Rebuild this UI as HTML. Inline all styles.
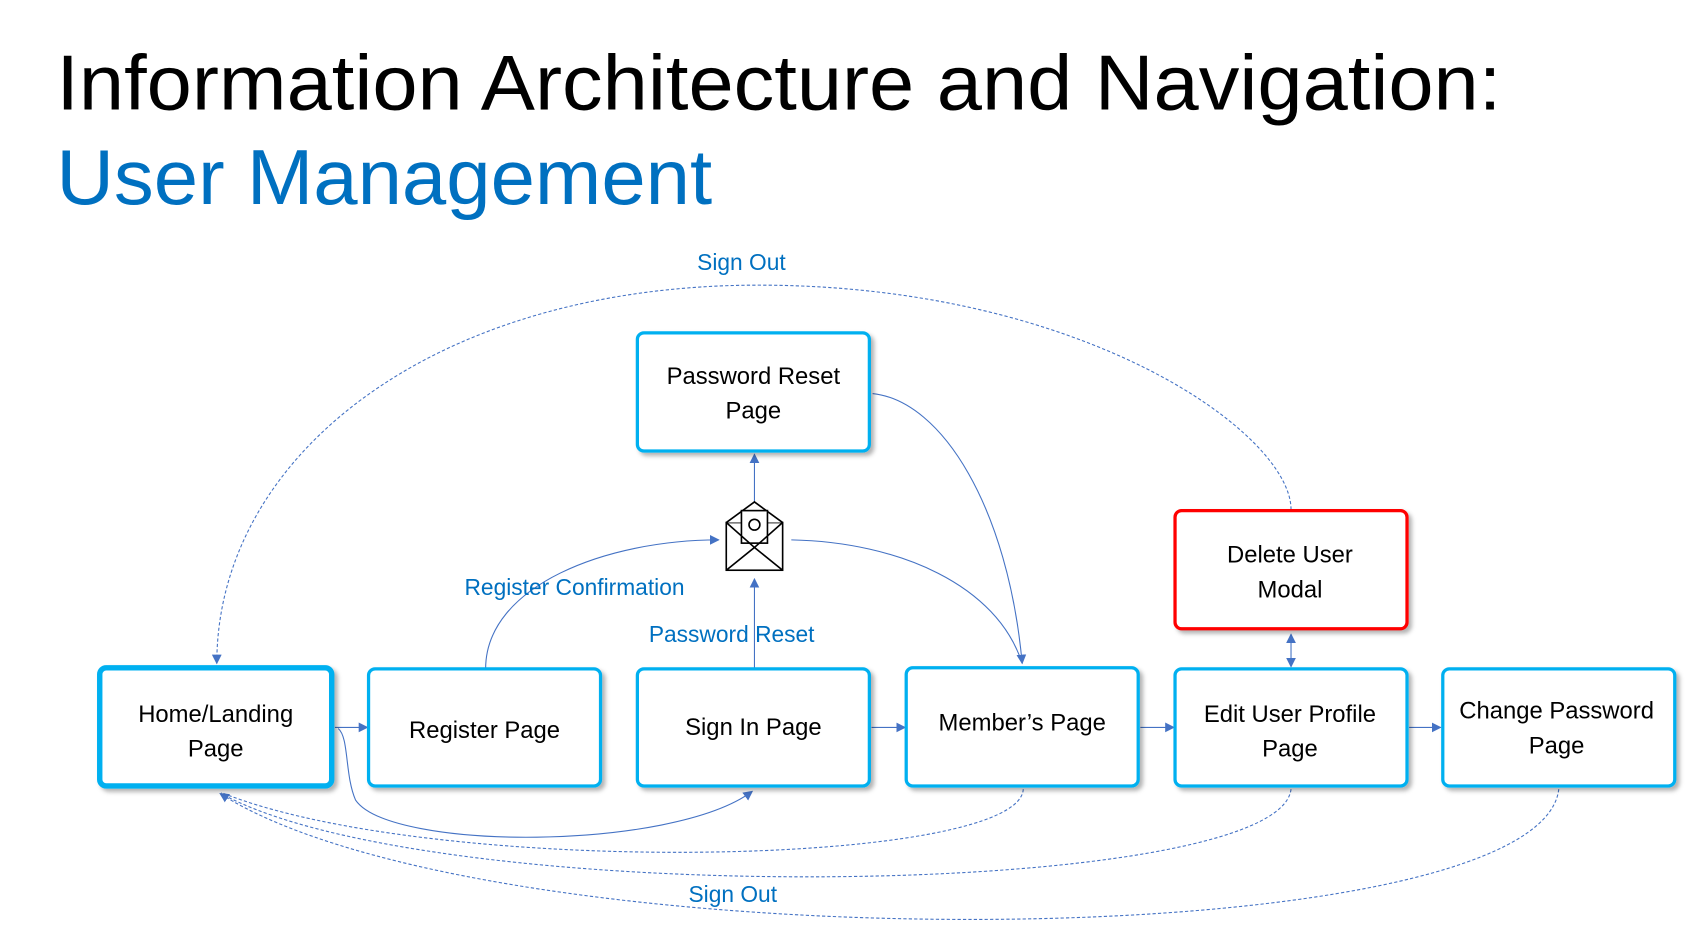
<!DOCTYPE html>
<html><head><meta charset="utf-8"><style>
html,body{margin:0;padding:0;background:#fff;}
svg{display:block;}
text{font-family:"Liberation Sans",sans-serif;}
</style></head><body>
<svg width="1696" height="928" viewBox="0 0 1564.6 856" xmlns="http://www.w3.org/2000/svg">
<defs>
<marker id="a" viewBox="0 0 10 10" refX="9" refY="5" markerWidth="9" markerHeight="9" markerUnits="userSpaceOnUse" orient="auto-start-reverse"><path d="M0,0L10,5L0,10z" fill="#4472C4"/></marker>
<filter id="s" x="-10%" y="-10%" width="130%" height="130%"><feDropShadow dx="3" dy="3" stdDeviation="2" flood-color="#000" flood-opacity="0.3"/></filter>
</defs>
<text x="52" y="101" font-size="72" fill="#000" textLength="1333" lengthAdjust="spacingAndGlyphs">Information Architecture and Navigation:</text>
<text x="52" y="188" font-size="72" fill="#0070C0" textLength="605" lengthAdjust="spacingAndGlyphs">User Management</text>

<g fill="none" stroke="#4472C4" stroke-width="1">
<path d="M1191,470 C1191,400 1000,263 700,263 C400,263 200,420 200,612" stroke-dasharray="3,2" marker-end="url(#a)"/>
<path d="M944,728 C940,800 400,810 204,731" stroke-dasharray="3,2"/>
<path d="M1191,728 C1180,830 400,840 204,732" stroke-dasharray="3,2"/>
<path d="M1438,728 C1420,885 450,890 203,732" stroke-dasharray="3,2" marker-end="url(#a)"/>
<path d="M309,671 L339,671" marker-end="url(#a)"/>
<path d="M312,672 C322,680 318,715 328,738 C360,785 620,785 694,730" marker-end="url(#a)"/>
<path d="M448,617 C448,540 560,498 663,498" marker-end="url(#a)"/>
<path d="M696,617 L696,534" marker-end="url(#a)"/>
<path d="M696,465 L696,419" marker-end="url(#a)"/>
<path d="M730,498 C830,500 920,540 943,612"/>
<path d="M805,363 C870,370 930,470 943,612" marker-end="url(#a)"/>
<path d="M804,671 L835,671" marker-end="url(#a)"/>
<path d="M1052,671 L1083,671" marker-end="url(#a)"/>
<path d="M1300,671 L1329,671" marker-end="url(#a)"/>
<path d="M1191,585 L1191,615" marker-start="url(#a)" marker-end="url(#a)"/>
</g>

<g fill="#fff" stroke="#00B0F0" stroke-width="3" filter="url(#s)">
<rect x="588" y="307" width="214" height="109" rx="6"/>
<rect x="92" y="616" width="214" height="109" rx="6" stroke-width="5"/>
<rect x="340" y="617" width="214" height="108" rx="6"/>
<rect x="588" y="617" width="214" height="108" rx="6"/>
<rect x="836" y="616" width="214" height="109" rx="6"/>
<rect x="1084" y="617" width="214" height="108" rx="6"/>
<rect x="1331" y="617" width="214" height="108" rx="6"/>
<rect x="1084" y="471" width="214" height="109" rx="6" stroke="#FF0000"/>
</g>

<g font-size="22" fill="#000" text-anchor="middle">
<text x="695" y="354">Password Reset</text><text x="695" y="386">Page</text>
<text x="199" y="666">Home/Landing</text><text x="199" y="698">Page</text>
<text x="447" y="681">Register Page</text>
<text x="695" y="678">Sign In Page</text>
<text x="943" y="674">Member’s Page</text>
<text x="1190" y="666">Edit User Profile</text><text x="1190" y="698">Page</text>
<text x="1436" y="663">Change Password</text><text x="1436" y="695">Page</text>
<text x="1190" y="519">Delete User</text><text x="1190" y="551">Modal</text>
</g>

<g font-size="21" fill="#0070C0" text-anchor="middle">
<text x="684" y="249">Sign Out</text>
<text x="530" y="549">Register Confirmation</text>
<text x="675" y="592">Password Reset</text>
<text x="676" y="832">Sign Out</text>
</g>

<g fill="#fff" stroke="#000" stroke-width="1.5">
<rect x="670" y="482" width="52" height="44"/>
<path d="M670,482 L696,463 L722,482"/>
<rect x="684" y="471" width="24" height="30"/>
<path d="M670,482 L696,505 L722,482" fill="none"/>
<path d="M670,526 L696,505 L722,526" fill="none"/>
<circle cx="696" cy="484" r="5" fill="none"/>
</g>
</svg>
</body></html>
